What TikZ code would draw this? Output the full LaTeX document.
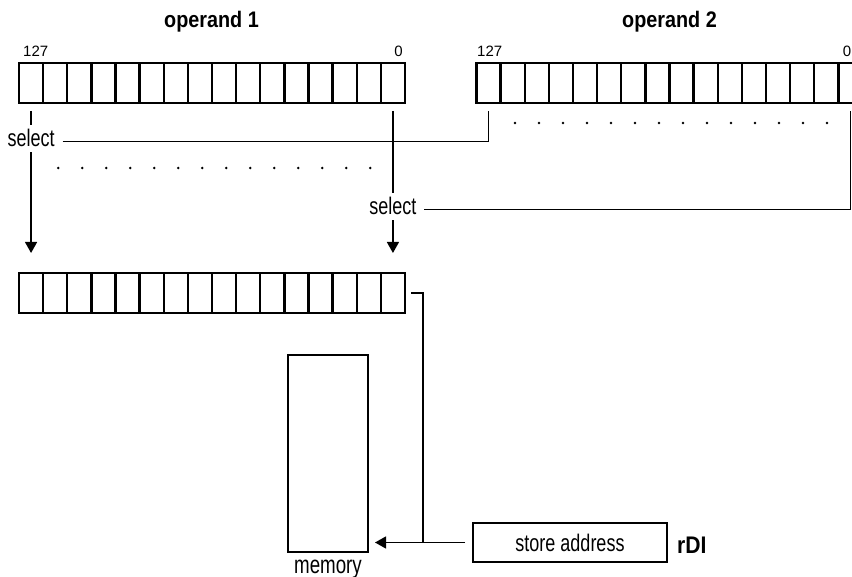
\documentclass[tikz,border=0pt]{standalone}
\usepackage{fontspec}
\setmainfont{Liberation Sans}
\newfontfamily\condfont{Liberation Sans}[FakeStretch=0.75]
\newfontfamily\boldcond{Liberation Sans}[FakeStretch=0.88]
\usetikzlibrary{arrows.meta,calc}
\begin{document}
\begin{tikzpicture}[x=1pt,y=-1pt,
  reg/.style={draw, line width=2.4pt, minimum width=386pt, minimum height=40pt, inner sep=0pt, outer sep=0pt, anchor=north west},
  cellline/.style={line width=2.4pt},
  boxnode/.style={draw, line width=2.4pt, inner sep=0pt, outer sep=0pt},
  conn/.style={line width=1.3pt},
  arr/.style={conn, -{Triangle[length=11pt,width=12pt]}},
  title/.style={font=\boldcond\fontsize{22.5}{26}\selectfont\bfseries, inner sep=0pt, anchor=base},
  bitlbl/.style={font=\fontsize{15}{18}\selectfont, inner sep=0pt},
  sellbl/.style={font=\condfont\fontsize{24}{26}\selectfont, inner xsep=8pt, inner ysep=5pt, outer sep=0pt, anchor=base},
  txt/.style={font=\condfont\fontsize{24}{26}\selectfont, inner sep=0pt},
  dotmark/.style={fill=black}
]
\useasboundingbox (0,0) rectangle (852,577);
\clip (0,0) rectangle (852,577);

% registers
\node[reg] (op1) at (19,63) {};
\node[reg] (op2) at (476.5,63) {};
\node[reg] (res) at (19,273) {};
\foreach \r in {op1,op2,res}{
  \foreach \i in {1,...,15}{
    \draw[cellline] ([xshift=\i*24.125pt]\r.north west) -- ([xshift=\i*24.125pt]\r.south west);
  }
}

% titles and bit labels
\node[title] (t1) at (211.5,28) {operand 1};
\node[title] (t2) at (669.5,28) {operand 2};
\node[bitlbl, anchor=base west] (a127) at (23,57) {127};
\node[bitlbl, anchor=base east] (a0) at (403,57) {0};
\node[bitlbl, anchor=base west] (b127) at (477,57) {127};
\node[bitlbl, anchor=base east] (b0) at (851.5,57) {0};

% bit tap coordinates
\coordinate (p1h) at ($(op1.south west)+(12.06,8)$);
\coordinate (p1l) at ($(op1.south east)+(-12.06,8)$);
\coordinate (p2h) at ($(op2.south west)+(12.06,8)$);
\coordinate (p2l) at ($(op2.south east)+(-12.06,8)$);
\coordinate (r1) at ($(res.north west)+(12.06,-20)$);
\coordinate (r0) at ($(res.north east)+(-12.06,-20)$);

% select labels
\node[sellbl] (sel1) at (p1h |- 0,147) {select};
\node[sellbl] (sel2) at (p1l |- 0,215) {select};

% select paths
\draw[conn] (p1h) -- (sel1.north);
\draw[arr] (sel1.south) -- (r1);
\draw[conn] ([yshift=5.5pt]sel1.base east) -| (p2h);
\draw[conn] (p1l) -- (sel2.north);
\draw[arr] (sel2.south) -- (r0);
\draw[conn] ([yshift=5.5pt]sel2.base east) -| (p2l);

% dots
\foreach \k in {0,...,13}{
  \fill[dotmark] (58.3+24*\k,168) circle (1.4pt);
  \fill[dotmark] (515+24*\k,123) circle (1.4pt);
}

% memory and store address
\node[boxnode, minimum width=80pt, minimum height=197pt, anchor=north west] (mem) at (288,355) {};
\node[txt, anchor=base, font=\condfont\fontsize{25}{27}\selectfont] (memlbl) at (328,573) {memory};
\node[boxnode, minimum width=194pt, minimum height=39pt, font=\condfont\fontsize{24}{26}\selectfont] (store) at (570,542.5) {store address};
\node[inner sep=0pt, anchor=base west, font=\boldcond\fontsize{24}{26}\selectfont\bfseries] (rdi) at (677,553) {rDI};

\coordinate (mtip) at ([xshift=7pt]mem.east);
\coordinate (sout) at ([xshift=-8pt]store.west);
\coordinate (rout) at ([xshift=6pt]res.east);
\coordinate (rcor) at ([xshift=18pt]res.east);
\coordinate (jn) at (rcor |- store.west);

\draw[arr] (sout) -- (mtip |- store.west);
\draw[conn] (rout) -- (rcor) -- (jn);
\end{tikzpicture}
\end{document}
